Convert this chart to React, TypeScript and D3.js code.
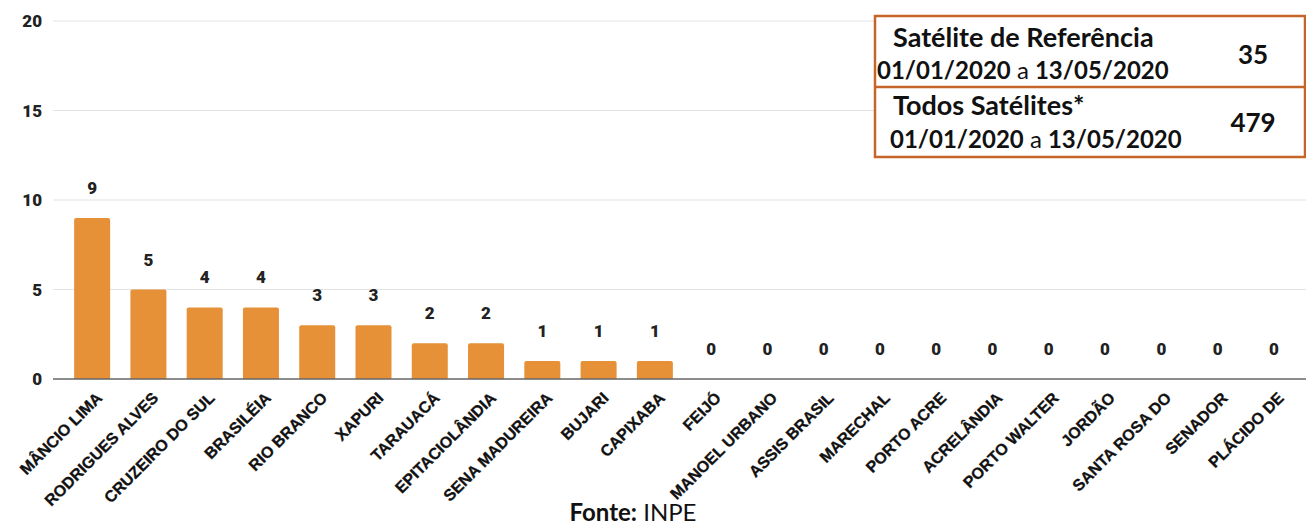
import * as d3 from "d3";
import { useEffect, useRef } from "react";

const municipios = [
  "MÂNCIO LIMA",
  "RODRIGUES ALVES",
  "CRUZEIRO DO SUL",
  "BRASILÉIA",
  "RIO BRANCO",
  "XAPURI",
  "TARAUACÁ",
  "EPITACIOLÂNDIA",
  "SENA MADUREIRA",
  "BUJARI",
  "CAPIXABA",
  "FEIJÓ",
  "MANOEL URBANO",
  "ASSIS BRASIL",
  "MARECHAL",
  "PORTO ACRE",
  "ACRELÂNDIA",
  "PORTO WALTER",
  "JORDÃO",
  "SANTA ROSA DO",
  "SENADOR",
  "PLÁCIDO DE",
];
const focos = [9, 5, 4, 4, 3, 3, 2, 2, 1, 1, 1, 0, 0, 0, 0, 0, 0, 0, 0, 0, 0, 0];
const yTicks = [0, 5, 10, 15, 20];

const periodo = { ini: "01/01/2020", fim: "13/05/2020" };
const resumo = [
  { titulo: "Satélite de Referência", total: "35" },
  { titulo: "Todos Satélites*", total: "479" },
];

const W = 1306;
const H = 525;
const BAR = "#e69138";
const BORDER = "#c5652a";
const LABEL_FONT = "'Liberation Sans', Arial, sans-serif";
const NUM_FONT = "Roboto, 'Liberation Sans', Arial, sans-serif";
const BOX_FONT = "Lato, 'Open Sans', sans-serif";

export default function App() {
  const ref = useRef<SVGSVGElement | null>(null);

  useEffect(() => {
    if (!ref.current) return;
    document.body.style.margin = "0";

    const x = d3.scaleBand<string>().domain(municipios).range([64, 1302]).paddingInner(0.36).paddingOuter(0.18);
    const y = d3.scaleLinear().domain([0, 20]).range([379, 21]);

    const svg = d3.select(ref.current);
    svg.selectAll("*").remove();

    // grid + y labels
    const grid = svg.append("g");
    yTicks.forEach((t) => {
      if (t > 0) {
        grid.append("line").attr("x1", 53).attr("x2", W).attr("y1", y(t)).attr("y2", y(t)).attr("stroke", "#e3e3e3").attr("stroke-width", 1);
      }
      grid
        .append("text")
        .attr("x", 42)
        .attr("y", y(t))
        .attr("dy", "0.36em")
        .attr("text-anchor", "end")
        .style("font-family", NUM_FONT)
        .style("font-weight", "900")
        .style("font-size", "17px")
        .style("fill", "#222")
        .text(t);
    });

    // bars
    const data = municipios.map((m, i) => ({ m, v: focos[i] }));
    svg
      .append("g")
      .selectAll("path")
      .data(data.filter((d) => d.v > 0))
      .join("path")
      .attr("fill", BAR)
      .attr("d", (d) => {
        const x0 = x(d.m)!;
        const w = x.bandwidth();
        const top = y(d.v);
        const b = y(0);
        const r = 2;
        return `M${x0},${b}V${top + r}Q${x0},${top} ${x0 + r},${top}H${x0 + w - r}Q${x0 + w},${top} ${x0 + w},${top + r}V${b}Z`;
      });

    // baseline
    svg.append("line").attr("x1", 53).attr("x2", W).attr("y1", y(0)).attr("y2", y(0)).attr("stroke", "#666").attr("stroke-width", 1.5);

    // value labels
    svg
      .append("g")
      .selectAll("text")
      .data(data)
      .join("text")
      .attr("x", (d) => x(d.m)! + x.bandwidth() / 2)
      .attr("y", (d) => y(d.v) - 24)
      .attr("text-anchor", "middle")
      .style("font-family", NUM_FONT)
      .style("font-weight", "900")
      .style("font-size", "17px")
      .style("fill", "#222")
      .text((d) => d.v);

    // category labels
    svg
      .append("g")
      .selectAll("text")
      .data(municipios)
      .join("text")
      .attr("transform", (m) => `translate(${x(m)! + x.bandwidth() / 2 + 11},399) rotate(-45)`)
      .attr("text-anchor", "end")
      .style("font-family", LABEL_FONT)
      .style("font-weight", "bold")
      .style("font-size", "16px")
      .style("fill", "#111")
      .style("stroke", "#111")
      .style("stroke-width", "0.3px")
      .text((m) => m);

    // summary box
    const box = svg.append("g");
    box.append("rect").attr("x", 875).attr("y", 16).attr("width", 430).attr("height", 141).attr("fill", "#fff").attr("stroke", BORDER).attr("stroke-width", 2.5);
    box.append("line").attr("x1", 875).attr("x2", W).attr("y1", 87).attr("y2", 87).attr("stroke", BORDER).attr("stroke-width", 2.5);

    const rows = [
      { t1: 893, b1: 47, t2: 877, b2: 79, num: 64 },
      { t1: 893, b1: 115, t2: 890, b2: 148, num: 132 },
    ];
    resumo.forEach((r, i) => {
      const p = rows[i];
      box.append("text").attr("x", p.t1).attr("y", p.b1).style("font-family", BOX_FONT).style("font-weight", "bold").style("font-size", "27px").style("fill", "#111").text(r.titulo);
      const t = box.append("text").attr("x", p.t2).attr("y", p.b2).style("font-family", BOX_FONT).style("font-size", "24px").style("fill", "#111");
      t.append("tspan").style("font-weight", "bold").text(periodo.ini);
      t.append("tspan").text(" a ");
      t.append("tspan").style("font-weight", "bold").text(periodo.fim);
      box.append("text").attr("x", 1253).attr("y", p.num).attr("text-anchor", "middle").style("font-family", BOX_FONT).style("font-weight", "bold").style("font-size", "26px").style("fill", "#111").text(r.total);
    });

    // source
    const src = svg.append("text").attr("x", 633).attr("y", 521).attr("text-anchor", "middle").style("font-family", BOX_FONT).style("font-size", "24px").style("fill", "#111");
    src.append("tspan").style("font-weight", "bold").text("Fonte:");
    src.append("tspan").text(" INPE");
  }, []);

  return (
    <svg
      ref={ref}
      width={W}
      height={H}
      style={{ position: "absolute", left: 0, top: 0, background: "#fff" }}
      role="img"
      aria-label="Focos de queimadas por município"
    />
  );
}
